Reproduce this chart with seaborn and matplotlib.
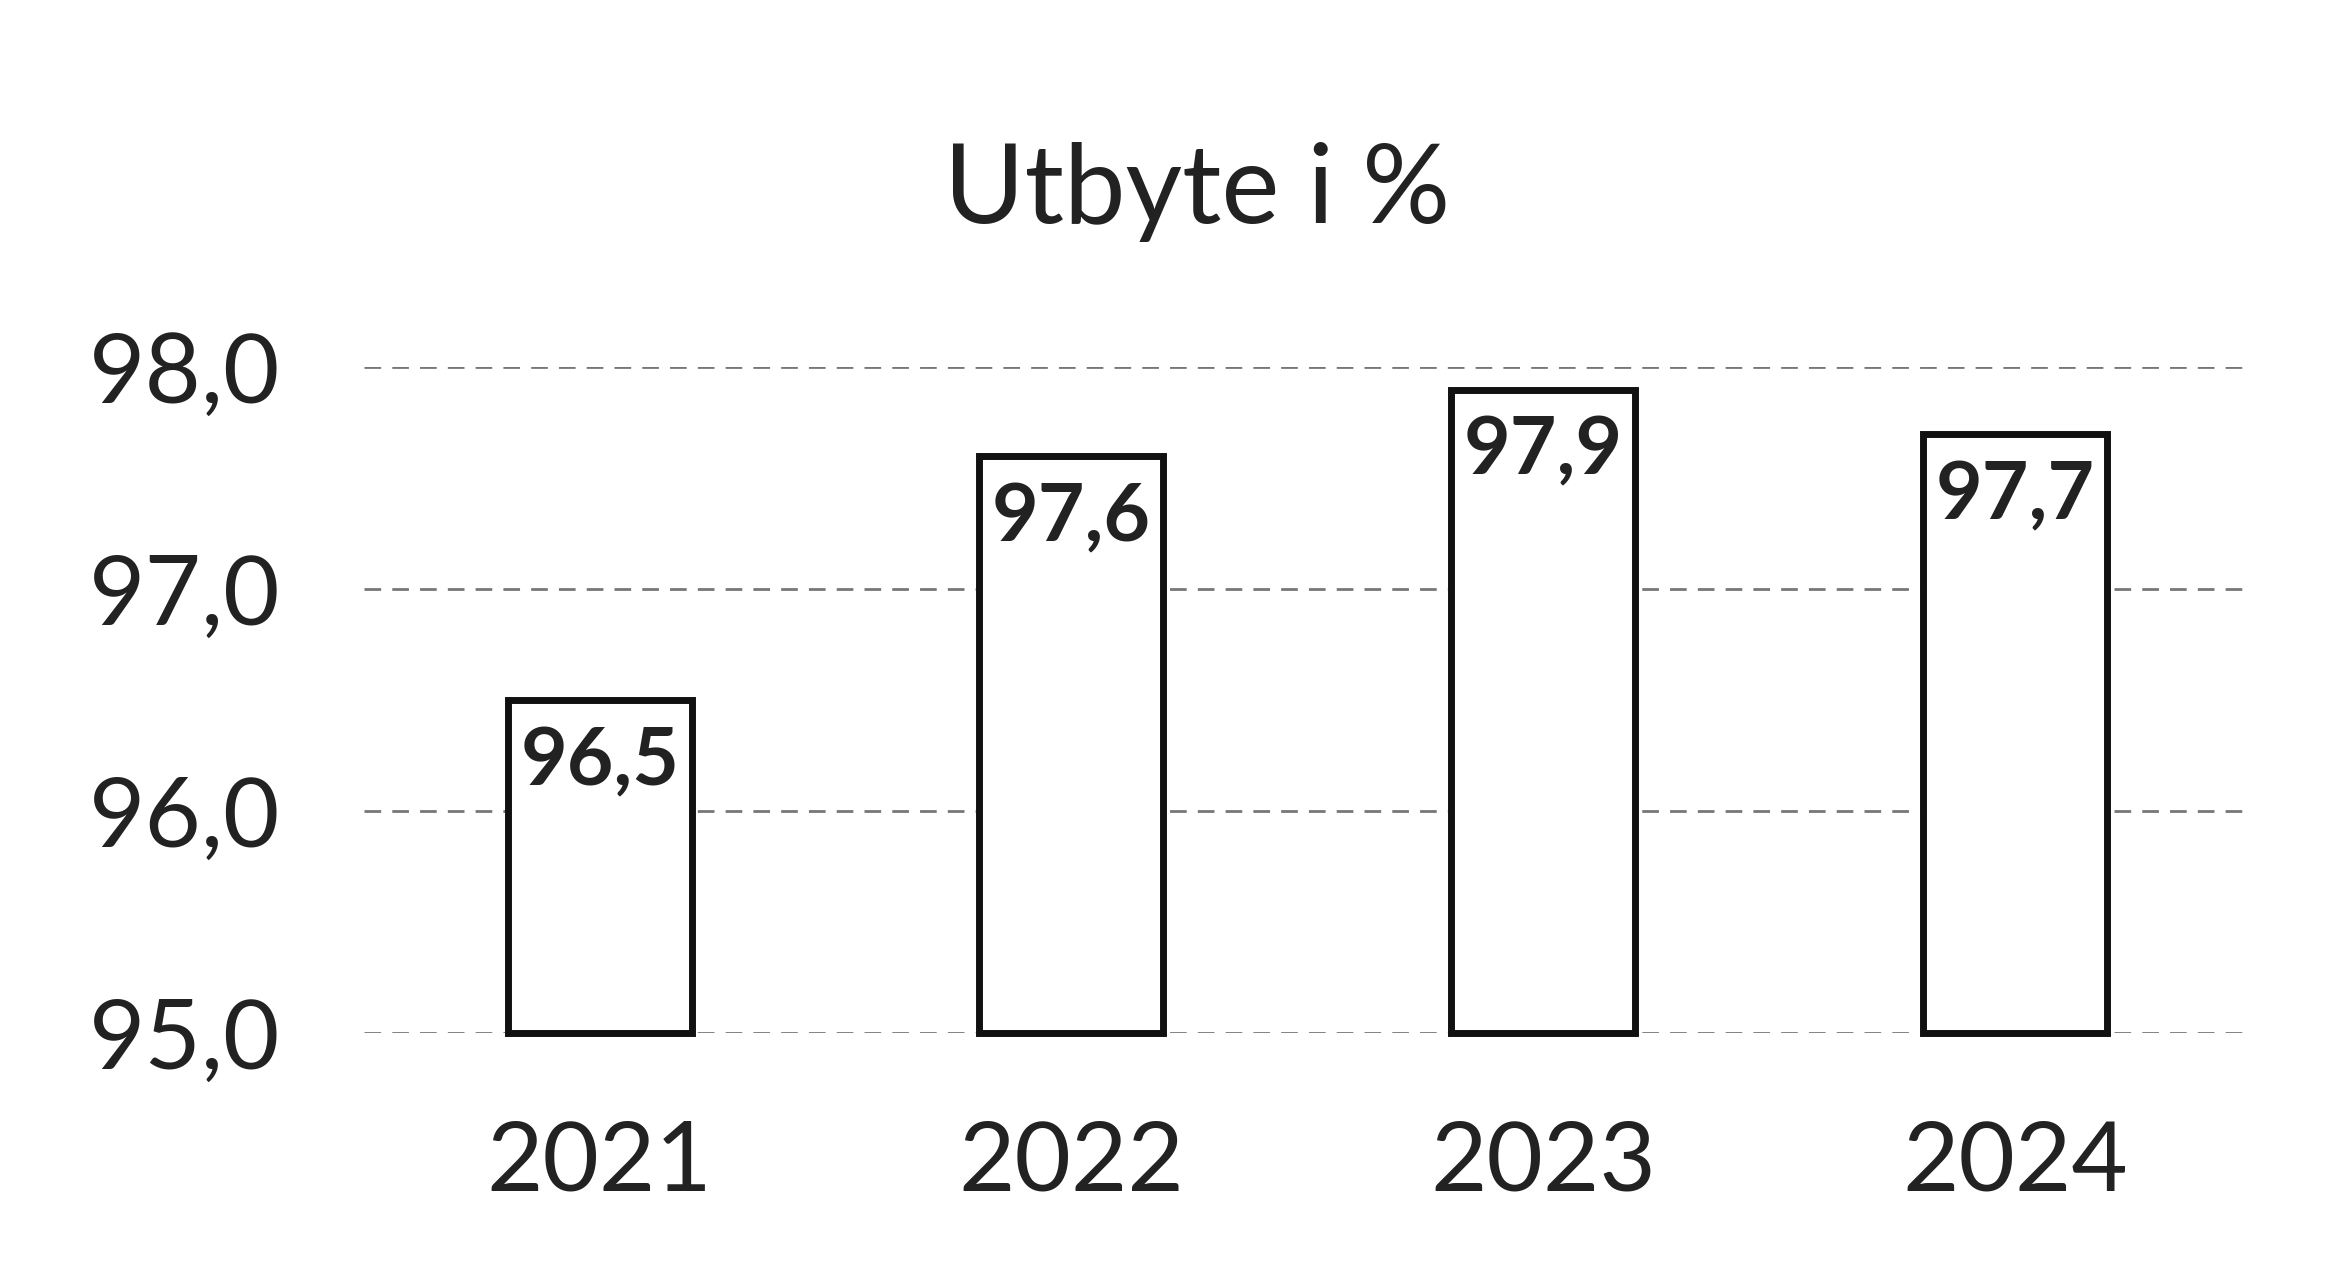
import matplotlib
matplotlib.use("Agg")
import matplotlib.pyplot as plt
import seaborn as sns
import pandas as pd

years = ["2021", "2022", "2023", "2024"]
values = [96.5, 97.6, 97.9, 97.7]
yticks = [95.0, 96.0, 97.0, 98.0]
title = "Utbyte i %"

sns.set_theme(style="white")
plt.rcParams["font.family"] = ["Lato", "DejaVu Sans"]

df = pd.DataFrame({"year": years, "value": values})

fig = plt.figure(figsize=(23.47, 12.8), dpi=100)
ax = fig.add_axes([0.155, 0.193, 0.804, 0.52])

sns.barplot(data=df, x="year", y="value", ax=ax, color="white",
            edgecolor="#111111", linewidth=5, width=0.39, zorder=3)

ax.set_ylim(95.0, 98.0)
ax.set_xlim(-0.5, 3.5)
for b in ax.patches:
    b.set_y(95.0)
    b.set_height(b.get_height() - 95.0)
    b.set_clip_on(False)

ax.set_yticks(yticks)
ax.set_yticklabels([f"{v:.1f}".replace(".", ",") for v in yticks], fontsize=70, color="#222222")
ax.tick_params(axis="x", labelsize=70, colors="#222222", pad=62, length=0)
ax.tick_params(axis="y", pad=60, length=0)
ax.set_xlabel("")
ax.set_ylabel("")
for s in ax.spines.values():
    s.set_visible(False)
ax.yaxis.grid(True, color="#777777", linestyle=(0, (6, 4)), linewidth=2)
ax.set_axisbelow(True)

for i, v in enumerate(values):
    ax.text(i, v - 0.28, f"{v:.1f}".replace(".", ","), ha="center", va="center",
            fontsize=58, fontweight="bold", color="#222222", zorder=5)

fig.text(0.51, 0.85, title, ha="center", va="center", fontsize=79, color="#222222")

fig.savefig("out.png", dpi=100, facecolor="white")
